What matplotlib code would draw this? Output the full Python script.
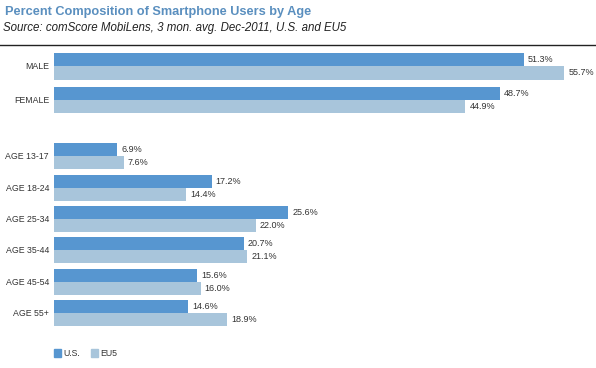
import matplotlib.pyplot as plt
from matplotlib.patches import Rectangle

categories = ["MALE", "FEMALE", "AGE 13-17", "AGE 18-24", "AGE 25-34", "AGE 35-44", "AGE 45-54", "AGE 55+"]
us = [51.3, 48.7, 6.9, 17.2, 25.6, 20.7, 15.6, 14.6]
eu5 = [55.7, 44.9, 7.6, 14.4, 22.0, 21.1, 16.0, 18.9]
series_names = ["U.S.", "EU5"]

US_COLOR = "#5796d0"
EU_COLOR = "#a8c5db"
TXT = "#333333"
FONT = "Liberation Sans"

W, H = 596, 368
fig = plt.figure(figsize=(W / 100, H / 100), dpi=100)
left_px = 54
ax = fig.add_axes([left_px / W, 0, 1 - left_px / W, 1])
px_per_pct = 9.16
ax.set_xlim(0, (W - left_px) / px_per_pct)
ax.set_ylim(H, 0)
ax.axis("off")

# layout: row centers in pixel coordinates
centers = [66.3, 100, 156, 188, 219, 250, 282, 313]
bh = 13.3

for c, cat, u, e in zip(centers, categories, us, eu5):
    ax.barh(c - bh / 2, u, height=bh, color=US_COLOR, align="center")
    ax.barh(c + bh / 2, e, height=bh, color=EU_COLOR, align="center")
    ax.text(u + 0.45, c - bh / 2, f"{u:.1f}%", va="center", ha="left",
            fontsize=6.5, color=TXT, family=FONT)
    ax.text(e + 0.45, c + bh / 2, f"{e:.1f}%", va="center", ha="left",
            fontsize=6.5, color=TXT, family=FONT)
    fig.text(49 / W, 1 - (c + 0.5) / H, cat, ha="right", va="center",
             fontsize=6.3, color=TXT, family=FONT)

fig.text(5 / W, 1 - 12 / H, "Percent Composition of Smartphone Users by Age",
         ha="left", va="center", fontsize=9.2, fontweight="bold",
         color="#5a8fbf", family=FONT)
fig.text(3 / W, 1 - 28.5 / H, "Source: comScore MobiLens, 3 mon. avg. Dec-2011, U.S. and EU5",
         ha="left", va="center", fontsize=8.3, style="italic", color="#222222", family=FONT)
fig.add_artist(plt.Line2D([0, 1], [1 - 44.5 / H, 1 - 44.5 / H], transform=fig.transFigure,
                          color="#222222", lw=1))

# legend
for x0, col, name in [(54, US_COLOR, series_names[0]), (91, EU_COLOR, series_names[1])]:
    fig.add_artist(Rectangle((x0 / W, 1 - 357 / H), 7 / W, 8 / H,
                             transform=fig.transFigure, color=col))
    fig.text((x0 + 9) / W, 1 - 353 / H, name, ha="left", va="center",
             fontsize=6.3, color=TXT, family=FONT)

fig.savefig("out.png", dpi=100, facecolor="white")
